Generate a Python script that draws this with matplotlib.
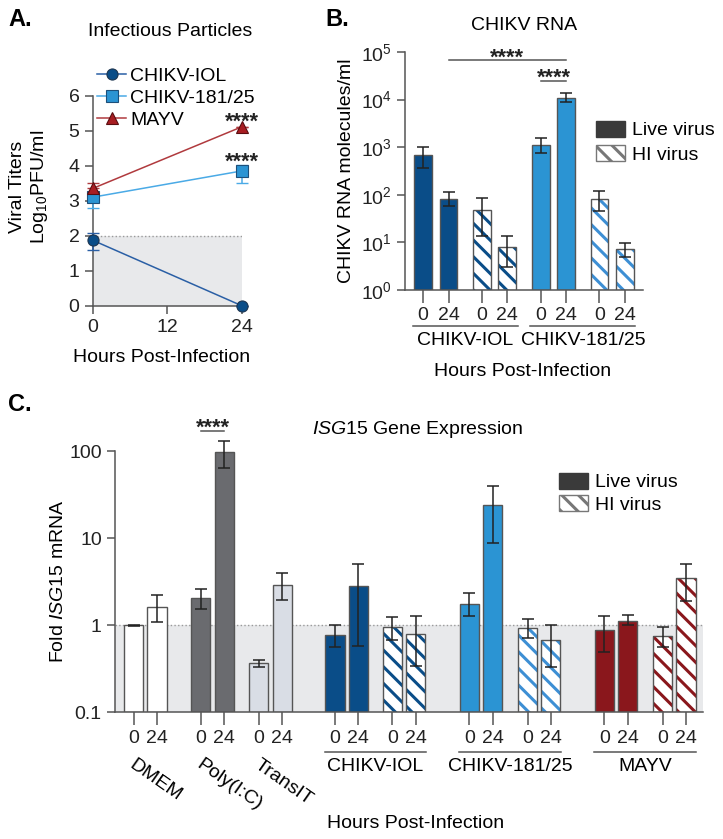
import matplotlib
matplotlib.use('Agg')
import matplotlib.pyplot as plt
import numpy as np
from matplotlib.patches import Patch
import matplotlib.transforms as mtransforms

plt.rcParams['font.family'] = ['Liberation Sans', 'DejaVu Sans']
plt.rcParams['mathtext.fontset'] = 'custom'
plt.rcParams['mathtext.rm'] = 'Liberation Sans'
plt.rcParams['mathtext.it'] = 'Liberation Sans:italic'
plt.rcParams['mathtext.bf'] = 'Liberation Sans:bold'
plt.rcParams['hatch.linewidth'] = 2.2
plt.rcParams['axes.edgecolor'] = '#555555'
plt.rcParams['xtick.color'] = '#555555'
plt.rcParams['ytick.color'] = '#555555'
plt.rcParams['xtick.labelcolor'] = '#222222'
plt.rcParams['ytick.labelcolor'] = '#222222'

W, H = 723, 839
fig = plt.figure(figsize=(W / 100, H / 100), dpi=100)


def fx(px):
    return px / W


def fy(py):
    return 1 - py / H


def axes_rect(x0, x1, y_top, y_bot):
    return [fx(x0), fy(y_bot), (x1 - x0) / W, (y_bot - y_top) / H]


# ---------------- DATA ----------------
# Panel A: infectious particles (log10 PFU/ml)
a_hours = [0, 24]
a_names = ['CHIKV-IOL', 'CHIKV-181/25', 'MAYV']
a_iol = [1.87, 0.0]
a_iol_lo = [0.28, 0.0]
a_iol_hi = [0.2, 0.0]
a_181 = [3.10, 3.85]
a_181_lo = [0.30, 0.33]
a_181_hi = [0.0, 0.18]
a_mayv = [3.35, 5.11]
a_mayv_lo = [0.0, 0.0]
a_mayv_hi = [0.15, 0.0]
a_lod = 2.0

# Panel B: CHIKV RNA molecules/ml
b_groups = ['CHIKV-IOL', 'CHIKV-181/25']
b_hour_labels = ['0', '24', '0', '24', '0', '24', '0', '24']
b_vals = [690, 83, 48, 8.1, 1120, 11000, 81, 7.3]
b_lo = [370, 58, 13.6, 3.1, 740, 8700, 46, 5.0]
b_hi = [1000, 113, 86, 13.6, 1540, 13500, 120, 9.6]
b_hatched = [False, False, True, True, False, False, True, True]

# Panel C: ISG15 fold expression
c_conditions = ['DMEM', 'Poly(I:C)', 'TransIT', 'CHIKV-IOL', 'CHIKV-181/25', 'MAYV']
c_hour_labels = ['0', '24'] * 9
c_vals = [1.0, 1.63, 2.07, 97, 0.366, 2.91, 0.78, 2.8, 0.96, 0.79,
          1.76, 23.8, 0.93, 0.67, 0.885, 1.13, 0.755, 3.44]
c_lo = [0.99, 1.08, 1.54, 63, 0.33, 1.97, 0.565, 0.574, 0.685, 0.344,
        1.26, 8.85, 0.72, 0.33, 0.49, 1.0, 0.565, 1.92]
c_hi = [1.01, 2.2, 2.62, 130, 0.40, 3.93, 1.0, 5.08, 1.25, 1.26,
        2.33, 39.6, 1.18, 1.0, 1.29, 1.32, 0.95, 5.08]

# ---------------- STYLE ----------------
col_iol = '#0a4d88'
col_181 = '#2b94d3'
col_181_hatch = '#3d8fd4'
col_mayv = '#8a171c'
col_poly = '#6a6b6f'
col_transit = '#d9dde5'
shade = '#e8e9eb'
edge = '#555555'
FS = 14
STAR_FS = 15.5
HATCH = '\\\\'

# ================= PANEL A =================
axA = fig.add_axes(axes_rect(92.7, 241.7, 95.7, 305.7))
axA.axhspan(0, a_lod, xmin=0, xmax=1, color=shade, zorder=0, lw=0)
axA.axhline(a_lod, color='#9a9a9a', ls=':', lw=1, zorder=1)

series = [
    (a_iol, a_iol_lo, a_iol_hi, 'o', col_iol, '#2a5fa5', '#1d3550'),
    (a_181, a_181_lo, a_181_hi, 's', col_181, '#4aaae6', '#1d4f7a'),
    (a_mayv, a_mayv_lo, a_mayv_hi, '^', '#a81d22', '#b03a3e', '#5a0d10'),
]
handles = []
for (vals, lo, hi, mk, mc, lc, ec), name in zip(series, a_names):
    axA.errorbar(a_hours, vals, yerr=[lo, hi], color=lc, lw=1.1, capsize=4,
                 elinewidth=1.1, fmt='none', zorder=3, clip_on=False)
    ln, = axA.plot(a_hours, vals, color=lc, lw=1.1, marker=mk, ms=8,
                   mfc=mc, mec=ec, mew=0.8, zorder=4, clip_on=False, label=name)
    handles.append(ln)

axA.text(a_hours[1], a_mayv[1] - 0.03, '****', ha='center', va='baseline',
         fontsize=STAR_FS, fontweight='bold', color='#222222')
axA.text(a_hours[1], a_181[1] + 0.08, '****', ha='center', va='baseline',
         fontsize=STAR_FS, fontweight='bold', color='#222222')

axA.set_xlim(0, 24)
axA.set_ylim(0, 6)
axA.set_xticks([0, 12, 24])
axA.set_yticks(range(0, 7))
axA.tick_params(labelsize=FS, length=6, width=1.1)
for s in ['top', 'right']:
    axA.spines[s].set_visible(False)
for s in ['left', 'bottom']:
    axA.spines[s].set_linewidth(1.1)
axA.legend(handles=handles, loc='upper left', bbox_to_anchor=(fx(97), fy(67)),
           bbox_transform=fig.transFigure, frameon=False, fontsize=FS,
           handlelength=1.5, handletextpad=0.2, labelspacing=0.23, borderpad=0,
           borderaxespad=0)

fig.text(fx(170), fy(31), 'Infectious Particles', ha='center', va='center', fontsize=FS)
fig.text(fx(18), fy(187), 'Viral Titers', rotation=90, ha='center', va='center', fontsize=FS)
fig.text(fx(40), fy(187), r'Log$_{10}$PFU/ml', rotation=90, ha='center', va='center', fontsize=FS)
fig.text(fx(162), fy(358), 'Hours Post-Infection', ha='center', va='center', fontsize=FS)
fig.text(fx(8), fy(20), 'A.', ha='left', va='center', fontsize=17, fontweight='bold')


# ================= helper for bars =================
def draw_bars(ax, pos, vals, colors, hatch_colors, hatched, width, lo, hi, capsize):
    y0 = ax.get_ylim()[0]
    for x, v, c, hc, h in zip(pos, vals, colors, hatch_colors, hatched):
        if h:
            ax.bar(x, v - y0, width=width, bottom=y0, color='white', edgecolor=hc,
                   hatch=HATCH, lw=0, zorder=2)
            ax.bar(x, v - y0, width=width, bottom=y0, fill=False, edgecolor=edge,
                   lw=1.0, zorder=3)
        else:
            ax.bar(x, v - y0, width=width, bottom=y0, color=c, edgecolor=edge,
                   lw=1.0, zorder=2)
    v = np.array(vals)
    ax.errorbar(pos, v, yerr=[v - np.array(lo), np.array(hi) - v], fmt='none',
                ecolor='#222222', elinewidth=1.1, capsize=capsize, capthick=1.1,
                zorder=4, clip_on=False)


# ================= PANEL B =================
axB = fig.add_axes(axes_rect(405, 643, 52, 290))
axB.set_yscale('log')
axB.set_ylim(1, 1e5)
b_pos = []
start = 0.0
for k in range(4):
    b_pos += [start, start + 1.0]
    start += 2.3
b_pos = np.array(b_pos)
b_colors = [col_iol] * 4 + [col_181] * 4
b_hcolors = [col_iol] * 4 + [col_181_hatch] * 4
axB.set_xlim(b_pos[0] - 0.7, b_pos[-1] + 0.7)
draw_bars(axB, b_pos, b_vals, b_colors, b_hcolors, b_hatched, 0.7, b_lo, b_hi, 4)
axB.set_xticks(b_pos)
axB.set_xticklabels(b_hour_labels)
axB.tick_params(axis='x', length=9, width=1.1, labelsize=FS, pad=3)
axB.tick_params(axis='y', which='major', length=6, width=1.1, labelsize=FS)
axB.tick_params(axis='y', which='minor', length=0)
axB.set_yticks([1, 10, 100, 1e3, 1e4, 1e5])
axB.set_yticklabels([r'10$^{%d}$' % i for i in range(6)])
for s in ['top', 'right']:
    axB.spines[s].set_visible(False)
for s in ['left', 'bottom']:
    axB.spines[s].set_linewidth(1.1)
trB = mtransforms.blended_transform_factory(axB.transData, axB.transAxes)
for g, name in enumerate(b_groups):
    x0 = b_pos[4 * g] - 0.4
    x1 = b_pos[4 * g + 3] + 0.4
    axB.plot([x0, x1], [-0.151, -0.151], color='#555555', lw=1.1,
             transform=trB, clip_on=False)
    axB.text((x0 + x1) / 2, -0.214, name, transform=trB, ha='center', va='center',
             fontsize=FS)
# significance
y_long = 6.8e4
axB.plot([b_pos[1], b_pos[5]], [y_long, y_long], color='#555555', lw=1.1, clip_on=False)
axB.text((b_pos[1] + b_pos[5]) / 2, y_long * 0.84, '****', ha='center', va='baseline',
         fontsize=STAR_FS, fontweight='bold', color='#222222')
y_short = 2.45e4
axB.plot([b_pos[4], b_pos[5]], [y_short, y_short], color='#555555', lw=1.1, clip_on=False)
axB.text((b_pos[4] + b_pos[5]) / 2, y_short * 0.89, '****', ha='center', va='baseline',
         fontsize=STAR_FS, fontweight='bold', color='#222222')

leg_handles = [Patch(facecolor='#3a3a3a', edgecolor='#3a3a3a'),
               Patch(facecolor='white', edgecolor='#777777', hatch=HATCH)]
axB.legend(leg_handles, ['Live virus', 'HI virus'], loc='upper left',
           bbox_to_anchor=(fx(596), fy(121)), bbox_transform=fig.transFigure,
           frameon=False, fontsize=FS, handlelength=1.5, handleheight=0.85,
           handletextpad=0.35, labelspacing=0.3, borderpad=0, borderaxespad=0)
axB.set_ylabel('CHIKV RNA molecules/ml', fontsize=FS, labelpad=4)
fig.text(fx(524), fy(26), 'CHIKV RNA', ha='center', va='center', fontsize=FS)
fig.text(fx(523), fy(372), 'Hours Post-Infection', ha='center', va='center', fontsize=FS)
fig.text(fx(325), fy(20), 'B.', ha='left', va='center', fontsize=17, fontweight='bold')

# ================= PANEL C =================
axC = fig.add_axes(axes_rect(115, 703, 451, 712.3))
axC.set_yscale('log')
axC.set_ylim(0.1, 100)
gaps = [1.88, 1.49, 2.27, 1.46, 2.3, 1.5, 2.3, 1.5]
c_pos = []
s = 0.0
for k in range(9):
    c_pos += [s, s + 1.0]
    if k < 8:
        s += 1.0 + gaps[k]
c_pos = np.array(c_pos)
c_colors = (['white'] * 2 + [col_poly] * 2 + [col_transit] * 2 +
            [col_iol] * 4 + [col_181] * 4 + [col_mayv] * 4)
c_hcolors = (['white'] * 6 + [col_iol] * 4 + [col_181_hatch] * 4 + [col_mayv] * 4)
c_hatched = [False] * 6 + [False, False, True, True] * 3
axC.set_xlim(-0.8, c_pos[-1] + 0.73)
axC.axhspan(0.1, 1, color=shade, zorder=0, lw=0)
axC.axhline(1, color='#9a9a9a', ls=':', lw=1, zorder=1)
draw_bars(axC, c_pos, c_vals, c_colors, c_hcolors, c_hatched, 0.82, c_lo, c_hi, 4)
axC.set_xticks(c_pos)
axC.set_xticklabels(c_hour_labels)
axC.tick_params(axis='x', length=9, width=1.1, labelsize=FS, pad=4)
axC.tick_params(axis='y', which='major', length=6, width=1.1, labelsize=FS)
axC.tick_params(axis='y', which='minor', length=0)
axC.set_yticks([0.1, 1, 10, 100])
axC.set_yticklabels(['0.1', '1', '10', '100'])
for sp in ['top', 'right']:
    axC.spines[sp].set_visible(False)
for sp in ['left', 'bottom']:
    axC.spines[sp].set_linewidth(1.1)
trC = mtransforms.blended_transform_factory(axC.transData, axC.transAxes)
# rotated control labels
for k, name in enumerate(c_conditions[:3]):
    axC.text(c_pos[2 * k] + 0.1, -0.168, name, transform=trC, rotation=-35,
             rotation_mode='anchor', ha='left', va='top', fontsize=FS)
# virus groups
for g, name in enumerate(c_conditions[3:]):
    i0 = 6 + 4 * g
    x0 = c_pos[i0] - 0.45
    x1 = c_pos[i0 + 3] + 0.45
    axC.plot([x0, x1], [-0.152, -0.152], color='#555555', lw=1.1,
             transform=trC, clip_on=False)
    axC.text((x0 + x1) / 2, -0.209, name, transform=trC, ha='center', va='center',
             fontsize=FS)
# significance
y_sig = 168
axC.plot([c_pos[2], c_pos[3]], [y_sig, y_sig], color='#555555', lw=1.1, clip_on=False)
axC.text((c_pos[2] + c_pos[3]) / 2, y_sig * 0.95, '****', ha='center', va='baseline',
         fontsize=STAR_FS, fontweight='bold', color='#222222')
axC.legend(leg_handles, ['Live virus', 'HI virus'], loc='upper left',
           bbox_to_anchor=(fx(559), fy(473)), bbox_transform=fig.transFigure,
           frameon=False, fontsize=FS, handlelength=1.5, handleheight=0.85,
           handletextpad=0.35, labelspacing=0.2, borderpad=0, borderaxespad=0)
axC.set_ylabel(r'Fold $\it{ISG15}$ mRNA', fontsize=FS)
axC.yaxis.set_label_coords(-0.082, 0.5)
fig.text(fx(418), fy(429), r'$\it{ISG15}$ Gene Expression', ha='center', va='center',
         fontsize=FS)
fig.text(fx(416), fy(823), 'Hours Post-Infection', ha='center', va='center', fontsize=FS)
fig.text(fx(8), fy(405), 'C.', ha='left', va='center', fontsize=17, fontweight='bold')

fig.savefig('out.png', dpi=100)
